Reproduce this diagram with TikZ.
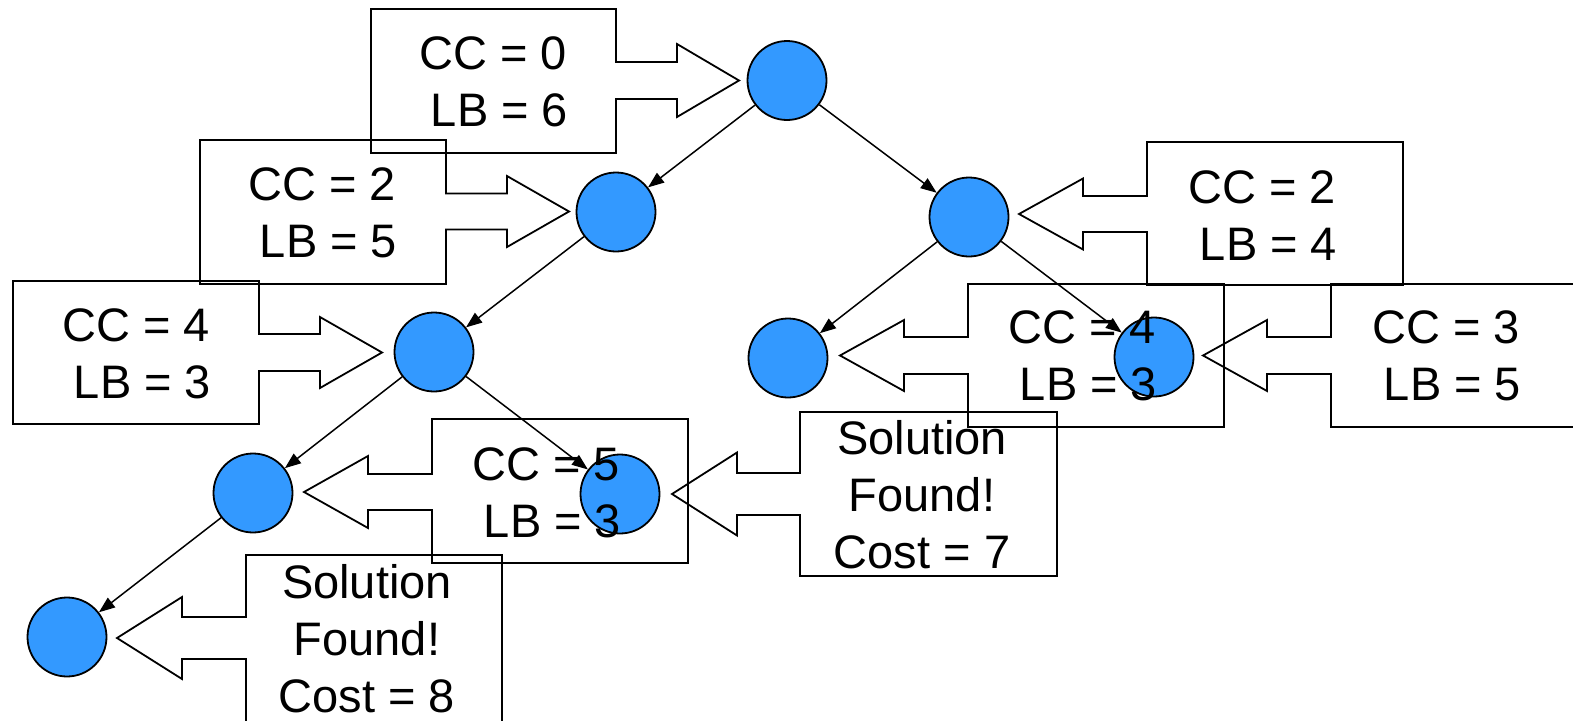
\documentclass[tikz,border=0pt]{standalone}
\usepackage{fontspec}
\setmainfont{Liberation Sans}
\usetikzlibrary{arrows.meta}
\definecolor{nodeblue}{HTML}{3399FF}
% #1 far edge x, #2 near edge x, #3 top y, #4 bottom y, #5 shaft end x, #6 tip x, #7 tip y, #8 shaft half, #9 head half
\newcommand{\callbox}[9]{%
  \draw[callline] (#1,#3) -- (#2,#3) -- (#2,#7-#8) -- (#5,#7-#8) -- (#5,#7-#9)
    -- (#6,#7) -- (#5,#7+#9) -- (#5,#7+#8) -- (#2,#7+#8) -- (#2,#4) -- (#1,#4) -- cycle;}
\newcommand{\lbline}[1]{\hspace*{13pt}LB = #1}
\tikzset{
  callline/.style={draw=black,line width=1.8pt,line join=miter},
  treenode/.style={circle,fill=nodeblue,draw=black,line width=1.8pt,minimum size=79pt,inner sep=0pt},
  labeltext/.style={align=center,inner sep=0pt,font=\fontsize{47}{57}\selectfont},
  edge/.style={draw=black,line width=1.5pt,-{Triangle[length=16pt,width=12pt]}}
}
\begin{document}
\begin{tikzpicture}[x=1pt,y=-1pt]
\useasboundingbox (0,0) rectangle (1573,720);
% callout outlines
\callbox{371}{616}{9}{153}{677}{739}{80.5}{18.5}{36.5}
\callbox{200}{446}{140}{284}{507}{569}{211.5}{18}{35.5}
\callbox{13}{259}{281}{424}{320}{382}{352.5}{18.5}{35.5}
\callbox{1403}{1147}{142}{285}{1083}{1019}{214}{18}{35.5}
\callbox{1224}{968}{284}{427}{904}{840}{355.5}{18.5}{35.5}
\callbox{1587}{1331}{284}{427}{1267}{1203}{355.5}{18.5}{35.5}
\callbox{688}{432}{419}{563}{368}{304}{492}{18}{36}
\callbox{1057}{800}{412}{576}{737}{672}{494}{21}{41.5}
\callbox{502}{246}{555}{722}{182}{117}{638}{21}{41}
% tree nodes
\node[treenode] (n0) at (787,80.5) {};
\node[treenode] (n1) at (616,212) {};
\node[treenode] (n2) at (969,217) {};
\node[treenode] (n3) at (434,352) {};
\node[treenode] (n4) at (788,358) {};
\node[treenode] (n5) at (1154,357) {};
\node[treenode] (n6) at (253,493) {};
\node[treenode] (n7) at (620,494) {};
\node[treenode] (n8) at (67,637) {};
% texts
\node[labeltext] (t0) at (493,82) {CC = 0\\\lbline{6}};
\node[labeltext] (t1) at (322,213) {CC = 2\\\lbline{5}};
\node[labeltext] (t2) at (136,354) {CC = 4\\\lbline{3}};
\node[labeltext] (t3) at (1262,215.5) {CC = 2\\\lbline{4}};
\node[labeltext] (t4) at (1082,355.5) {CC = 4\\\lbline{3}};
\node[labeltext] (t5) at (1446,356) {CC = 3\\\lbline{5}};
\node[labeltext] (t6) at (546,492.5) {CC = 5\\\lbline{3}};
\node[labeltext] (t7) at (922,495) {Solution\\Found!\\Cost = 7};
\node[labeltext] (t8) at (367,639) {Solution\\Found!\\Cost = 8};
% edges
\draw[edge] (n0) -- (n1);
\draw[edge] (n0) -- (n2);
\draw[edge] (n1) -- (n3);
\draw[edge] (n2) -- (n4);
\draw[edge] (n2) -- (n5);
\draw[edge] (n3) -- (n6);
\draw[edge] (n3) -- (n7);
\draw[edge] (n6) -- (n8);
\end{tikzpicture}
\end{document}
